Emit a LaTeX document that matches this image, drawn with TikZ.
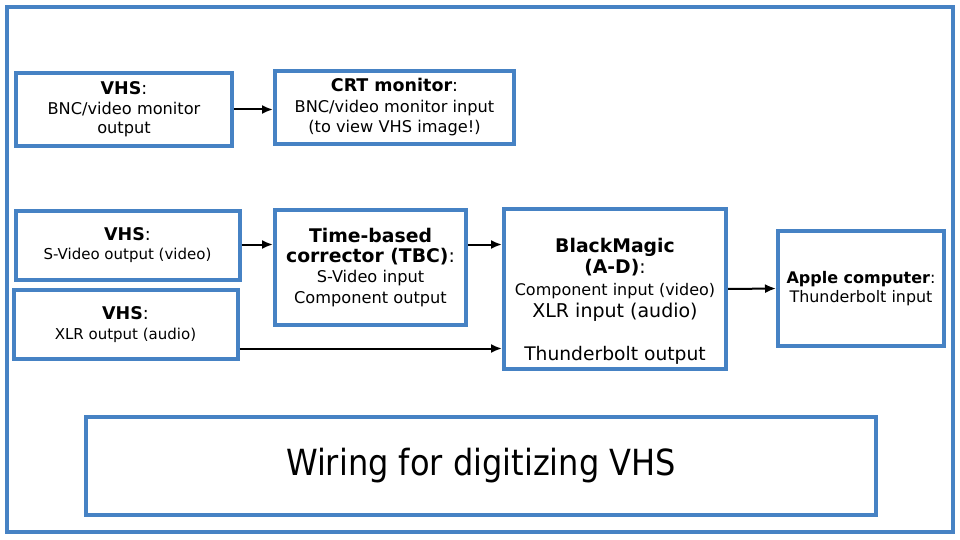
\documentclass[tikz,border=0pt]{standalone}
\usepackage{fontspec}
\setmainfont{DejaVu Sans}
\newfontfamily\titlefont[FakeStretch=0.89]{DejaVu Sans}
\usetikzlibrary{arrows.meta}
\definecolor{boxblue}{RGB}{70,130,196}
\newcommand{\fs}[2]{\fontsize{#1}{#2}\selectfont}
\begin{document}
\begin{tikzpicture}[x=1pt,y=-1pt]
		\tikzset{vertex/.style = {draw=boxblue, line width=4pt, inner sep=0pt, align=center}}
		\tikzset{skip/.style = {font=\fs{16}{#1}}}
		\tikzset{edge/.style = {-{Latex[length=11pt,width=9pt]}, line width=2pt}}
		\useasboundingbox (0,0) rectangle (960,540);
		
		\node[vertex, minimum width=946, minimum height=525] (0) at (480.4,269.5) {};
		
		\node[vertex, skip=19.5, minimum width=216, minimum height=73] (1) at (124,109.5)
			{\fs{17.5}{20}{\bfseries VHS}:\\\fs{16.2}{20}BNC/video monitor\\\fs{16.2}{20}output};
		\node[vertex, skip=20.5, minimum width=239, minimum height=73] (2) at (394.5,107.5)
			{\fs{17.5}{20.5}{\bfseries CRT monitor}:\\\fs{16.2}{20.5}BNC/video monitor input\\\fs{16.2}{20.5}(to view VHS image!)};
		\node[vertex, skip=19, minimum width=224, minimum height=69] (3) at (127.5,245.5)
			{\fs{17.5}{19}{\bfseries VHS}:\\\fs{15}{19}S-Video output (video)};
		\node[vertex, skip=20, minimum width=224, minimum height=69] (4) at (125.5,324.5)
			{\fs{17.5}{20}{\bfseries VHS}:\\\fs{15}{20}XLR output (audio)};
		\node[vertex, skip=20.3, minimum width=191, minimum height=115] (5) at (370.5,267.5)
			{\fs{18.8}{20.5}\bfseries Time-based\\\fs{18.8}{20.5}{\bfseries corrector (TBC)}:\\\fs{16.2}{20.5}S-Video input\\\fs{16.2}{20.5}Component output\rule[-4pt]{0pt}{0pt}};
		\node[vertex, minimum width=222, minimum height=160] (6) at (615,289) {};
		\node[align=center, inner sep=0pt, skip=21.7] (6t) at (615,301)
			{\fs{18.8}{22}\bfseries BlackMagic\\\fs{18.8}{22}{\bfseries (A-D)}:\\\fs{16}{22}Component input (video)\\\fs{19}{21}XLR input (audio)\\[21pt]\fs{18.7}{21}Thunderbolt output};
		\node[vertex, skip=19, minimum width=166, minimum height=115] (7) at (861,288.5)
			{\fs{16}{19}{\bfseries Apple computer}:\\\fs{15.9}{19}Thunderbolt input};
		\node[vertex, minimum width=790, minimum height=98] (8) at (481,466)
			{\titlefont\fs{36}{36}Wiring for digitizing VHS};
		
		\draw[edge] (1.east) to (1.east -| 2.west);
		\draw[edge] ([yshift=1pt]3.east) to ([yshift=1pt]3.east -| 5.west);
		\draw[edge] ([yshift=1pt]3.east -| 5.east) to ([yshift=1pt]3.east -| 6.west);
		\draw[edge] ([yshift=-24pt]4.east) to ([yshift=-24pt]4.east -| 6.west);
		\draw[edge] (6.east) to (7.west);
		\end{tikzpicture}
\end{document}
